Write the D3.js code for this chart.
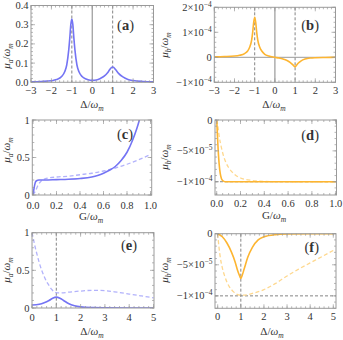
<!DOCTYPE html>
<html>
<head>
<meta charset="utf-8">
<script src="https://cdn.jsdelivr.net/npm/d3@7"></script>
<style>
  body { margin: 0; background: #fff; }
  svg text { font-family: "Liberation Serif", "Times New Roman", serif; fill: #333; }
</style>
</head>
<body>
<svg id="fig" width="343" height="340"></svg>
<script>
// ---- data ----
// (a) mu_a vs detuning
var aX = [-3, -2.5, -2, -1.75, -1.5, -1.35, -1.25, -1.15, -1.1, -1.05, -1.0, -0.95, -0.9, -0.85, -0.75, -0.65, -0.5, -0.3, -0.1, 0, 0.2, 0.4, 0.6, 0.75, 0.85, 0.95, 1.0, 1.05, 1.15, 1.3, 1.5, 1.75, 2, 2.5, 3]
var aY = [0.002, 0.004, 0.008, 0.014, 0.03, 0.055, 0.09, 0.17, 0.23, 0.3, 0.33, 0.3, 0.23, 0.17, 0.09, 0.055, 0.03, 0.017, 0.011, 0.01, 0.012, 0.02, 0.033, 0.05, 0.065, 0.078, 0.08, 0.078, 0.065, 0.045, 0.028, 0.015, 0.009, 0.004, 0.002]
// (b) mu_b vs detuning, units of 1e-4
var bX = [-3, -2.5, -2, -1.75, -1.5, -1.35, -1.25, -1.15, -1.1, -1.05, -1.0, -0.95, -0.9, -0.85, -0.75, -0.65, -0.5, -0.3, 0, 0.2, 0.4, 0.6, 0.75, 0.85, 0.95, 1.0, 1.05, 1.15, 1.3, 1.5, 1.75, 2, 2.5, 3]
var bY = [0.02, 0.03, 0.05, 0.08, 0.15, 0.25, 0.4, 0.7, 1.0, 1.4, 1.6, 1.4, 1.0, 0.7, 0.4, 0.25, 0.12, 0.05, 0.0, -0.03, -0.07, -0.13, -0.2, -0.27, -0.35, -0.38, -0.34, -0.24, -0.14, -0.07, -0.03, -0.015, -0.005, 0]
// (c) mu_a vs G
var cSolidX = [0, 0.01, 0.02, 0.03, 0.05, 0.1, 0.2, 0.3, 0.4, 0.5, 0.55, 0.6, 0.65, 0.7, 0.75, 0.8, 0.85, 0.88, 0.9, 0.91]
var cSolidY = [0, 0.1, 0.17, 0.19, 0.2, 0.2, 0.205, 0.21, 0.22, 0.24, 0.26, 0.29, 0.33, 0.38, 0.46, 0.57, 0.74, 0.87, 0.97, 1.03]
var cDashX = [0, 0.02, 0.04, 0.06, 0.08, 0.1, 0.2, 0.3, 0.4, 0.5, 0.6, 0.7, 0.8, 0.9, 1.0]
var cDashY = [0, 0.05, 0.12, 0.17, 0.2, 0.215, 0.24, 0.25, 0.27, 0.29, 0.32, 0.36, 0.41, 0.47, 0.54]
// (d) mu_b vs G, units of 1e-4
var dSolidX = [0, 0.005, 0.01, 0.02, 0.03, 0.04, 0.05, 0.07, 0.1, 0.3, 1.0]
var dSolidY = [0, -0.2, -0.4, -0.7, -0.87, -0.95, -0.98, -1.0, -1.0, -1.0, -1.0]
var dDashX = [0, 0.01, 0.02, 0.04, 0.06, 0.08, 0.1, 0.15, 0.2, 0.3, 0.4, 0.6, 1.0]
var dDashY = [0, -0.1, -0.25, -0.45, -0.6, -0.7, -0.77, -0.88, -0.94, -0.98, -0.995, -1.0, -1.0]
// (e) mu_a vs detuning (0..5)
var eSolidX = [0, 0.3, 0.5, 0.7, 0.85, 1.0, 1.15, 1.3, 1.5, 1.75, 2, 2.5, 3, 4, 5]
var eSolidY = [0.04, 0.05, 0.07, 0.1, 0.13, 0.145, 0.13, 0.1, 0.06, 0.03, 0.015, 0.005, 0.002, 0, 0]
var eDashX = [0, 0.05, 0.1, 0.2, 0.3, 0.4, 0.5, 0.6, 0.7, 0.8, 0.9, 1.0, 1.2, 1.5, 2, 2.5, 3, 3.5, 4, 4.5, 5]
var eDashY = [1.0, 0.93, 0.85, 0.72, 0.6, 0.5, 0.42, 0.35, 0.3, 0.25, 0.22, 0.205, 0.2, 0.21, 0.225, 0.235, 0.23, 0.21, 0.185, 0.16, 0.135]
// (f) mu_b vs detuning (0..5), units of 1e-4
var fSolidX = [0, 0.2, 0.4, 0.6, 0.75, 0.85, 0.95, 1.0, 1.05, 1.15, 1.3, 1.5, 1.75, 2, 2.5, 3, 4, 5]
var fSolidY = [0, -0.05, -0.15, -0.3, -0.45, -0.58, -0.68, -0.72, -0.68, -0.56, -0.38, -0.22, -0.1, -0.05, -0.015, -0.005, 0, 0]
var fDashX = [0, 0.05, 0.1, 0.2, 0.3, 0.4, 0.5, 0.7, 1.0, 1.3, 1.6, 2, 2.5, 3, 3.5, 4, 4.5, 5]
var fDashY = [0, -0.2, -0.35, -0.55, -0.68, -0.78, -0.85, -0.94, -0.99, -0.98, -0.95, -0.9, -0.8, -0.68, -0.57, -0.47, -0.37, -0.27]

// tick labels
var detTicks3 = [-3, -2, -1, 0, 1, 2, 3]
var detTicks5 = [0, 1, 2, 3, 4, 5]
var gTicks = [0, 0.2, 0.4, 0.6, 0.8, 1.0]
var aYTicks = [0, 0.1, 0.2, 0.3, 0.4]
var bYTicks = [-1, 0, 1, 2]
var halfTicks = [0, 0.5, 1]
var negTicks = [-1, -0.5, 0]

var blue = '#7474f4', blueLight = '#b2b2fb'
var orange = '#fdb531', orangeLight = '#fed88e'
var frameCol = '#9a9a9a'

var svg = d3.select('#fig')

function fmtDec(d, n) {
  var s = n == null ? String(d) : d.toFixed(n)
  return s.replace('-', '\u2212')
}

// writes "m×10^e" labels (values are in units of 1e-4)
function sciLabel(sel, v) {
  if (v === 0) { sel.text('0'); return }
  var e, m
  if (Math.abs(v) === 0.5) { m = v * 10; e = -5 } else { m = v; e = -4 }
  sel.append('tspan').text(fmtDec(m, 0) + '\u00d710')
  sel.append('tspan').attr('dy', -4).attr('font-size', 7.5).text('\u2212' + Math.abs(e))
}

function panel(o) {
  var g = svg.append('g')
  var x = d3.scaleLinear().domain(o.xd).range(o.xr)
  var y = d3.scaleLinear().domain(o.yd).range(o.yr)
  var f = o.frame // [x0, y0, x1, y1]
  var id = 'clip' + o.name
  svg.append('clipPath').attr('id', id).append('rect')
    .attr('x', f[0]).attr('y', f[1]).attr('width', f[2] - f[0]).attr('height', f[3] - f[1])

  // ref lines
  var refs = g.append('g').attr('clip-path', 'url(#' + id + ')')
  ;(o.vdash || []).forEach(function(v) {
    refs.append('line').attr('x1', x(v)).attr('x2', x(v)).attr('y1', f[1]).attr('y2', f[3])
      .attr('stroke', '#666').attr('stroke-width', 0.8).attr('stroke-dasharray', '3,2')
  })
  ;(o.hdash || []).forEach(function(v) {
    refs.append('line').attr('x1', f[0]).attr('x2', f[2]).attr('y1', y(v)).attr('y2', y(v))
      .attr('stroke', '#666').attr('stroke-width', 0.8).attr('stroke-dasharray', '3,2')
  })
  ;(o.vsolid || []).forEach(function(v) {
    refs.append('line').attr('x1', x(v)).attr('x2', x(v)).attr('y1', f[1]).attr('y2', f[3])
      .attr('stroke', '#999').attr('stroke-width', 1.2)
  })
  ;(o.hsolid || []).forEach(function(v) {
    refs.append('line').attr('x1', f[0]).attr('x2', f[2]).attr('y1', y(v)).attr('y2', y(v))
      .attr('stroke', '#999').attr('stroke-width', 1)
  })

  // curves
  var line = d3.line().x(function(d) { return x(d[0]) }).y(function(d) { return y(d[1]) })
    .curve(d3.curveMonotoneX)
  o.series.forEach(function(s) {
    refs.append('path')
      .datum(d3.zip(s.x, s.y))
      .attr('d', line)
      .attr('fill', 'none')
      .attr('stroke', s.color)
      .attr('stroke-width', s.dash ? 1.3 : 1.6)
      .attr('stroke-dasharray', s.dash ? '4,2.5' : null)
  })

  // frame
  g.append('rect').attr('x', f[0]).attr('y', f[1]).attr('width', f[2] - f[0]).attr('height', f[3] - f[1])
    .attr('fill', 'none').attr('stroke', frameCol).attr('stroke-width', 1)

  // ticks, inward on all sides
  var tk = g.append('g').attr('stroke', frameCol).attr('stroke-width', 0.7)
  function xt(v, len) {
    var px = x(v)
    if (px < f[0] - 0.1 || px > f[2] + 0.1) return
    tk.append('line').attr('x1', px).attr('x2', px).attr('y1', f[3]).attr('y2', f[3] - len)
    tk.append('line').attr('x1', px).attr('x2', px).attr('y1', f[1]).attr('y2', f[1] + len)
  }
  function yt(v, len) {
    var py = y(v)
    if (py < f[1] - 0.1 || py > f[3] + 0.1) return
    tk.append('line').attr('y1', py).attr('y2', py).attr('x1', f[0]).attr('x2', f[0] + len)
    tk.append('line').attr('y1', py).attr('y2', py).attr('x1', f[2]).attr('x2', f[2] - len)
  }
  d3.range(o.xd[0], o.xd[1] + 1e-9, o.xminor).forEach(function(v) { xt(v, 2) })
  d3.range(o.ymin[0], o.ymin[1] + 1e-9, o.ymin[2]).forEach(function(v) { yt(v, 2) })
  o.xticks.forEach(function(v) { xt(v, 4) })
  o.yticks.forEach(function(v) { yt(v, 4) })

  // tick labels
  o.xticks.forEach(function(v) {
    g.append('text').attr('x', x(v)).attr('y', f[3] + (o.xtickGap || 12)).attr('text-anchor', 'middle')
      .attr('font-size', 10.5).text(fmtDec(v, o.xdec))
  })
  o.yticks.forEach(function(v) {
    var t = g.append('text').attr('x', f[0] - 2.5).attr('y', y(v) + 3.5).attr('text-anchor', 'end')
      .attr('font-size', 10.5)
    if (o.sci) sciLabel(t, v)
    else t.text(fmtDec(v, o.ydec))
  })

  // axis labels
  var xl = g.append('text').attr('x', o.xlab[0]).attr('y', o.xlab[1]).attr('text-anchor', 'middle')
    .attr('font-size', 11)
  xl.append('tspan').text(o.xvar + '/')
  xl.append('tspan').attr('font-style', 'italic').text('\u03c9')
  xl.append('tspan').attr('font-style', 'italic').attr('font-size', 7.5).attr('dy', 2.5).text('m')

  var yl = g.append('text').attr('transform', 'translate(' + o.ylab[0] + ',' + o.ylab[1] + ') rotate(-90)')
    .attr('text-anchor', 'middle').attr('font-size', 11)
  yl.append('tspan').attr('font-style', 'italic').text('\u03bc')
  yl.append('tspan').attr('font-style', 'italic').attr('font-size', 7.5).attr('dy', 2.5).text(o.sub)
  yl.append('tspan').attr('dy', -2.5).text('/')
  yl.append('tspan').attr('font-style', 'italic').text('\u03c9')
  yl.append('tspan').attr('font-style', 'italic').attr('font-size', 7.5).attr('dy', 2.5).text('m')

  // panel letter
  var pl = g.append('text').attr('x', o.tag[0]).attr('y', o.tag[1]).attr('text-anchor', 'end')
    .attr('font-size', 14.5).attr('fill', '#222')
  pl.append('tspan').text('(')
  pl.append('tspan').attr('font-weight', 'bold').text(o.name)
  pl.append('tspan').text(')')
}

panel({
  name: 'a', frame: [31, 5.5, 153.5, 82.3], xd: [-3, 3], xr: [31, 153.5], yd: [0, 0.4], yr: [82.3, 5.5],
  xticks: detTicks3, yticks: aYTicks, xminor: 0.2, ymin: [0, 0.4, 0.02], xdec: 0, ydec: 1,
  vdash: [-1, 1], vsolid: [0],
  series: [{ x: aX, y: aY, color: blue }],
  xvar: '\u0394', sub: 'a', xlab: [92, 108], ylab: [10, 56], tag: [134, 30]
})
panel({
  name: 'b', frame: [214.3, 7.3, 335.5, 82.3], xd: [-3, 3], xr: [214.3, 335.5], yd: [-1, 2], yr: [82.3, 7.3],
  xticks: detTicks3, yticks: bYTicks, xminor: 0.2, ymin: [-1, 2, 0.2], xdec: 0, sci: true,
  vdash: [-1, 1], vsolid: [0], hsolid: [0],
  series: [{ x: bX, y: bY, color: orange }],
  xvar: '\u0394', sub: 'b', xlab: [274, 108], ylab: [168, 45], tag: [319, 30]
})
panel({
  name: 'c', frame: [32.3, 120, 151.7, 195], xd: [0, 1], xr: [33, 150.5], yd: [0, 1], yr: [195, 120],
  xticks: gTicks, yticks: halfTicks, xminor: 0.05, ymin: [0, 1, 0.1], xdec: 1, xtickGap: 14,
  series: [{ x: cDashX, y: cDashY, color: blueLight, dash: true }, { x: cSolidX, y: cSolidY, color: blue }],
  xvar: 'G', sub: 'a', xlab: [91, 220], ylab: [10, 150], tag: [133, 139]
})
panel({
  name: 'd', frame: [215, 120, 336.5, 195], xd: [0, 1], xr: [216.7, 335.7], yd: [-1.215, 0], yr: [195, 120],
  xticks: gTicks, yticks: negTicks, xminor: 0.05, ymin: [-1.2, 0, 0.1], xdec: 1, sci: true,
  hdash: [-1],
  series: [{ x: dDashX, y: dDashY, color: orangeLight, dash: true }, { x: dSolidX, y: dSolidY, color: orange }],
  xvar: 'G', sub: 'b', xlab: [274, 219], ylab: [168, 157], tag: [319, 140]
})
panel({
  name: 'e', frame: [32, 232.7, 154, 308], xd: [0, 5], xr: [32, 153.5], yd: [0, 1], yr: [308, 232.7],
  xticks: detTicks5, yticks: halfTicks, xminor: 0.2, ymin: [0, 1, 0.1], xdec: 0, xtickGap: 13,
  vdash: [1],
  series: [{ x: eDashX, y: eDashY, color: blueLight, dash: true }, { x: eSolidX, y: eSolidY, color: blue }],
  xvar: '\u0394', sub: 'a', xlab: [92, 335], ylab: [10, 270], tag: [137, 250]
})
panel({
  name: 'f', frame: [215, 233.7, 336, 308.3], xd: [0, 5], xr: [217.7, 333.3], yd: [-1.2, 0], yr: [308.3, 233.7],
  xticks: detTicks5, yticks: negTicks, xminor: 0.2, ymin: [-1.2, 0, 0.1], xdec: 0, sci: true,
  vdash: [1], hdash: [-1],
  series: [{ x: fDashX, y: fDashY, color: orangeLight, dash: true }, { x: fSolidX, y: fSolidY, color: orange }],
  xvar: '\u0394', sub: 'b', xlab: [272, 335], ylab: [168, 270], tag: [319, 252]
})
</script>
</body>
</html>
